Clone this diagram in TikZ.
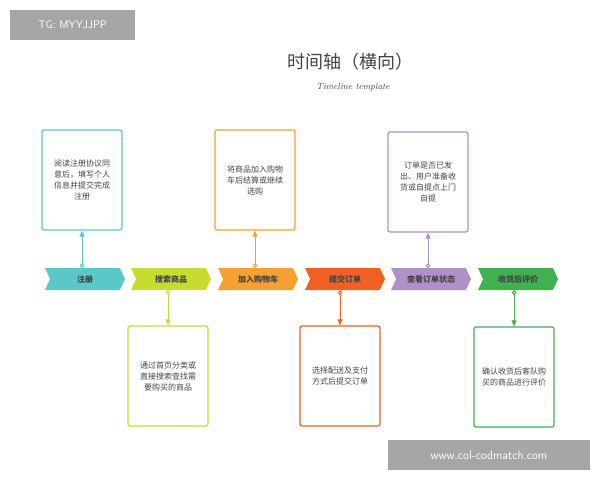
\documentclass[tikz,border=0pt]{standalone}
\usepackage{fontspec}
\newfontfamily\cjk{Noto Sans CJK SC}
\usetikzlibrary{shapes.symbols,arrows.meta}
\definecolor{cA}{HTML}{5BC8C8}
\definecolor{cB}{HTML}{C8DC30}
\definecolor{cC}{HTML}{F5A030}
\definecolor{cD}{HTML}{F06020}
\definecolor{cE}{HTML}{B090C8}
\definecolor{cF}{HTML}{40B050}
\definecolor{tx}{HTML}{444444}
\begin{document}
\begin{tikzpicture}[x=1pt,y=-1pt,
  chev/.style={signal, signal to=east, signal from=west, signal pointer angle=130, fill=#1, draw=none, minimum width=80pt, minimum height=22pt, inner sep=0pt, font=\cjk\bfseries\fontsize{8}{9}\selectfont, text=tx},
  card/.style={draw=#1, line width=1.2pt, rounded corners=2pt, minimum width=80pt, minimum height=100pt, align=center, font=\cjk\fontsize{8}{11}\selectfont, text=tx, inner sep=0pt},
  conn/.style={draw=#1, line width=1pt, {Circle[open,fill=white,length=4.5pt]}-{Triangle[length=6pt,width=5pt]}}]
\useasboundingbox (0,0) rectangle (600,480);
\fill[gray!70] (10,10) rectangle (135,40);
\node[text=white, font=\sffamily\fontsize{11}{13}\selectfont] (wm1) at (72.5,25) {TG: MYYJJPP};
\node[font=\cjk\fontsize{18}{20}\selectfont, text=tx] (title) at (350,62) {时间轴（横向）};
\node[font=\itshape\fontsize{9}{11}\selectfont, text=tx] (sub) at (353,87) {Timeline template};
\node[chev=cA] (c1) at (85,279) {注册};
\node[chev=cB] (c2) at (171,279) {搜索商品};
\node[chev=cC] (c3) at (258,279) {加入购物车};
\node[chev=cD] (c4) at (345,279) {提交订单};
\node[chev=cE] (c5) at (431,279) {查看订单状态};
\node[chev=cF] (c6) at (518,279) {收货后评价};
\node[card=cA] (b1) at (82,180) {阅读注册协议同\\意后，填写个人\\信息并提交完成\\注册};
\node[card=cC] (b3) at (255,180) {将商品加入购物\\车后结算或继续\\选购};
\node[card=cE] (b5) at (428,182) {订单是否已发\\出、用户准备收\\货或自提点上门\\自提};
\node[card=cB] (b2) at (168,376) {通过首页分类或\\直接搜索查找需\\要购买的商品};
\node[card=cD] (b4) at (340,376) {选择配送及支付\\方式后提交订单};
\node[card=cF] (b6) at (514,377) {确认收货后客队购\\买的商品进行评价};
\draw[conn=cA] (b1.south |- c1.north) -- (b1.south);
\draw[conn=cC] (b3.south |- c3.north) -- (b3.south);
\draw[conn=cE] (b5.south |- c5.north) -- (b5.south);
\draw[conn=cB] (b2.north |- c2.south) -- (b2.north);
\draw[conn=cD] (b4.north |- c4.south) -- (b4.north);
\draw[conn=cF] (b6.north |- c6.south) -- (b6.north);
\fill[gray!70] (388,440) rectangle (590,470);
\node[text=white, font=\sffamily\fontsize{12}{14}\selectfont] (wm2) at (489,455) {www.col-codmatch.com};
\end{tikzpicture}
\end{document}
